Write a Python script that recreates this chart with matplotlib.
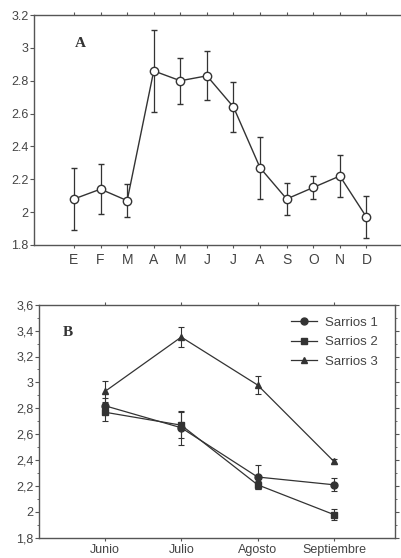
import matplotlib.pyplot as plt
from matplotlib.ticker import MultipleLocator

# Panel A: monthly means with error bars
months = ['E', 'F', 'M', 'A', 'M', 'J', 'J', 'A', 'S', 'O', 'N', 'D']
a_mean = [2.08, 2.14, 2.07, 2.86, 2.80, 2.83, 2.64, 2.27, 2.08, 2.15, 2.22, 1.97]
a_err = [0.19, 0.15, 0.10, 0.25, 0.14, 0.15, 0.15, 0.19, 0.10, 0.07, 0.13, 0.13]
a_yticks = [1.8, 2.0, 2.2, 2.4, 2.6, 2.8, 3.0, 3.2]
a_ylabels = ['1.8', '2', '2.2', '2.4', '2.6', '2.8', '3', '3.2']

# Panel B: three groups, June-September
b_months = ['Junio', 'Julio', 'Agosto', 'Septiembre']
s1_mean = [2.82, 2.65, 2.27, 2.21]
s1_err = [0.06, 0.13, 0.09, 0.05]
s2_mean = [2.77, 2.67, 2.21, 1.98]
s2_err = [0.07, 0.10, 0.03, 0.04]
s3_mean = [2.93, 3.35, 2.98, 2.39]
s3_err = [0.08, 0.08, 0.07, 0.02]
b_yticks = [1.8, 2.0, 2.2, 2.4, 2.6, 2.8, 3.0, 3.2, 3.4, 3.6]
b_ylabels = ['1,8', '2', '2,2', '2,4', '2,6', '2,8', '3', '3,2', '3,4', '3,6']

plt.rcParams['font.family'] = ['Liberation Sans', 'DejaVu Sans']
gray = '#555555'
line_c = '#333333'

fig = plt.figure(figsize=(4.01, 5.58), dpi=100)

# ---- panel A ----
ax1 = fig.add_axes([0.085, 0.561, 0.915, 0.412])
xa = list(range(1, len(months) + 1))
ax1.errorbar(xa, a_mean, yerr=a_err, color=line_c, lw=1.0, elinewidth=0.9,
             capsize=2.5, capthick=0.9, marker='o', ms=6, mfc='white',
             mec=line_c, mew=1.0)
ax1.set_xlim(-0.5, 13.3)
ax1.set_ylim(1.8, 3.2)
ax1.set_xticks(xa)
ax1.set_xticklabels(months)
ax1.set_yticks(a_yticks)
ax1.set_yticklabels(a_ylabels)
ax1.spines['right'].set_visible(False)
ax1.tick_params(axis='x', top=True, direction='out', length=2.5, colors=gray,
                labelsize=10, pad=3, labelcolor='#444444')
ax1.tick_params(axis='y', direction='out', length=3, colors=gray,
                labelsize=9, pad=1, labelcolor='#444444')
for sp in ax1.spines.values():
    sp.set_color(gray)
    sp.set_linewidth(1.0)
ax1.text(0.125, 0.875, 'A', transform=ax1.transAxes, fontsize=11,
         fontweight='bold', family='Liberation Serif', color='#333333',
         va='center', ha='center')

# ---- panel B ----
ax2 = fig.add_axes([0.097, 0.036, 0.888, 0.418])
xb = list(range(1, len(b_months) + 1))
kw = dict(color=line_c, lw=0.9, elinewidth=0.8, capsize=2.2, capthick=0.8,
          ms=5, mfc='#333333', mec='#333333')
e1 = ax2.errorbar(xb, s1_mean, yerr=s1_err, marker='o', **kw)
e2 = ax2.errorbar(xb, s2_mean, yerr=s2_err, marker='s', **kw)
e3 = ax2.errorbar(xb, s3_mean, yerr=s3_err, marker='^', **kw)
ax2.set_xlim(0.135, 4.8)
ax2.set_ylim(1.8, 3.6)
ax2.set_xticks(xb)
ax2.set_xticklabels(b_months)
ax2.set_yticks(b_yticks)
ax2.set_yticklabels(b_ylabels)
ax2.yaxis.set_minor_locator(MultipleLocator(0.1))
ax2.tick_params(axis='x', top=True, direction='out', length=2.5, colors=gray,
                labelsize=9, pad=2, labelcolor='#444444')
ax2.tick_params(axis='y', which='both', right=True, direction='out',
                colors=gray, labelsize=9, pad=1, labelcolor='#444444')
ax2.tick_params(axis='y', which='major', length=3)
ax2.tick_params(axis='y', which='minor', length=1.5)
for sp in ax2.spines.values():
    sp.set_color(gray)
    sp.set_linewidth(1.0)
ax2.text(0.08, 0.88, 'B', transform=ax2.transAxes, fontsize=11,
         fontweight='bold', family='Liberation Serif', color='#333333',
         va='center', ha='center')
leg = ax2.legend([e1.lines[0], e2.lines[0], e3.lines[0]],
                 ['Sarrios 1', 'Sarrios 2', 'Sarrios 3'],
                 loc='upper right', frameon=False, fontsize=9.5,
                 handlelength=2.0, handletextpad=0.6, labelspacing=0.55,
                 bbox_to_anchor=(0.985, 1.0))
for t in leg.get_texts():
    t.set_color('#444444')

fig.savefig('out.png', dpi=100)
